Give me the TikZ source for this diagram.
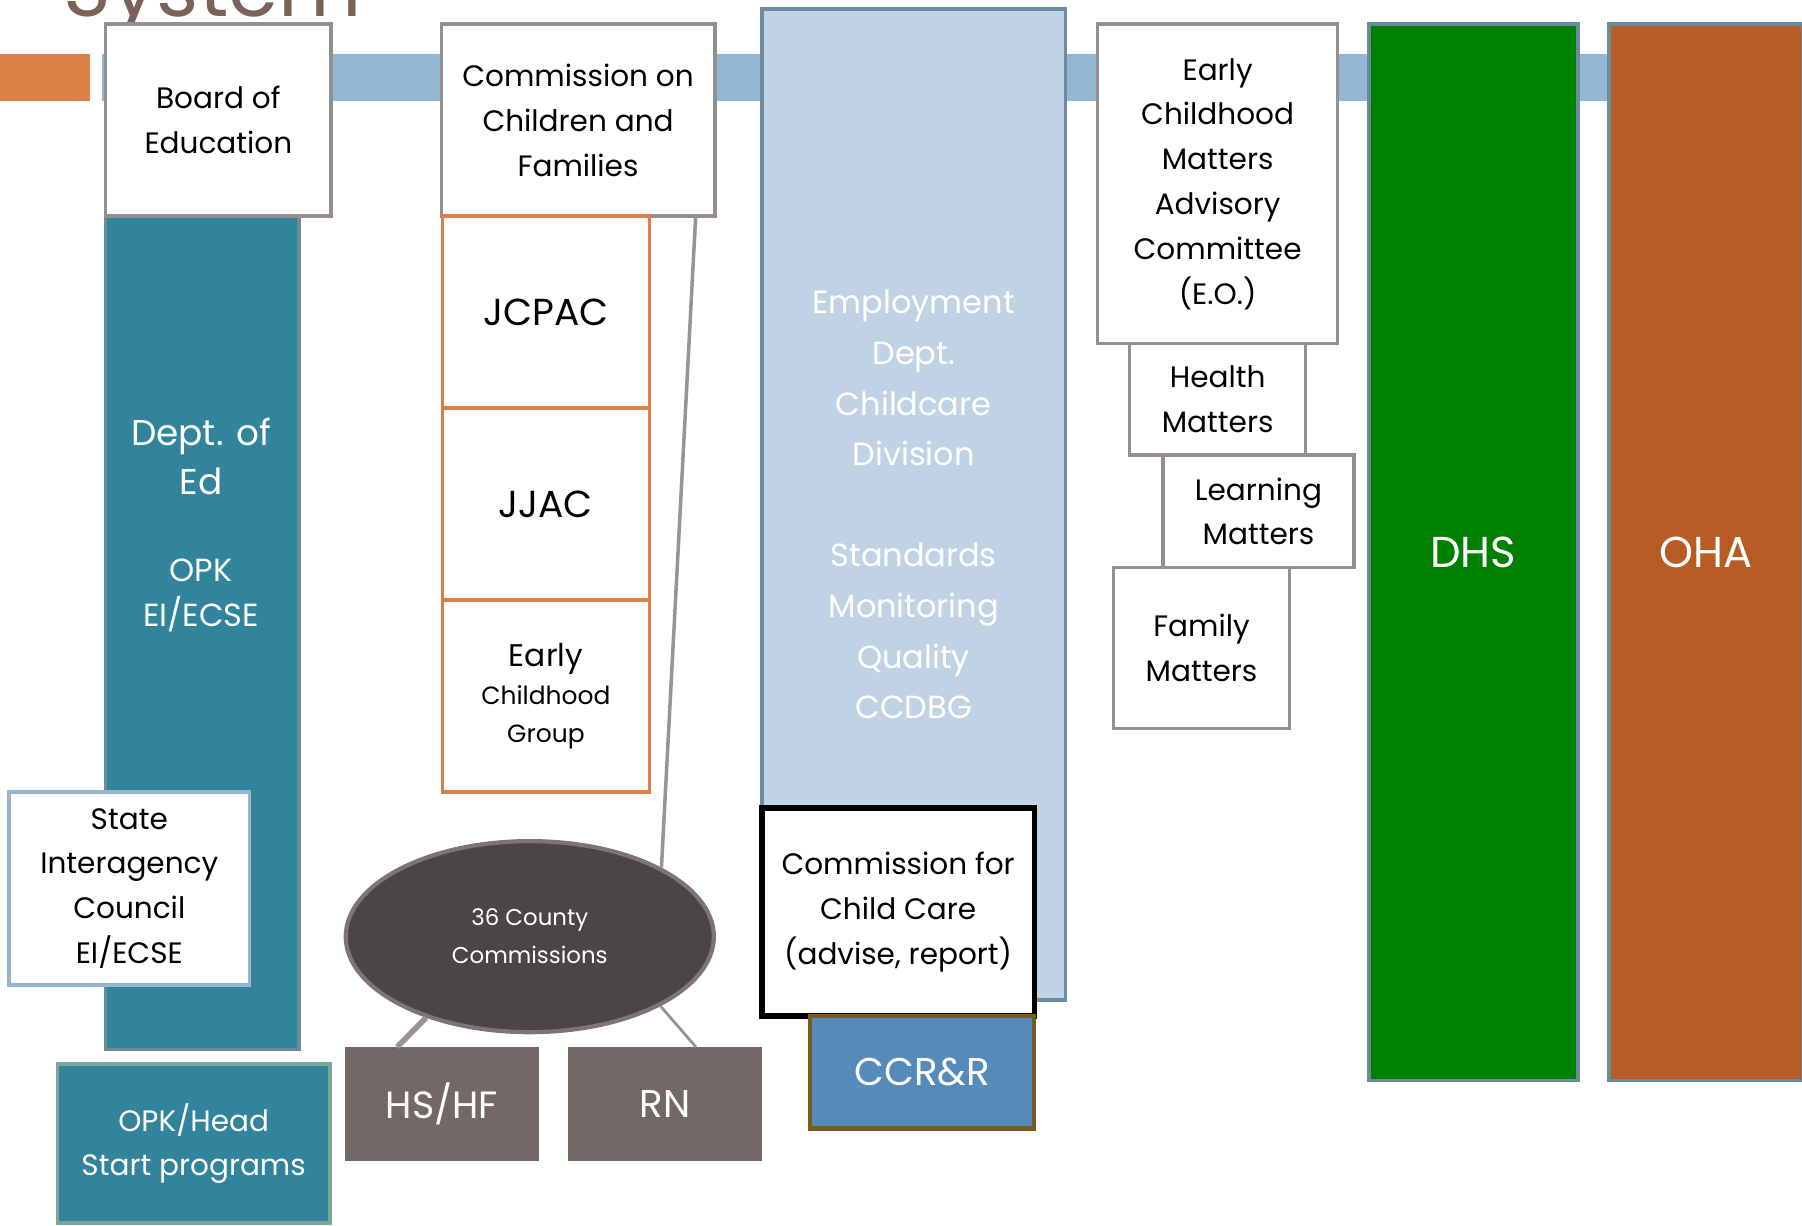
\documentclass[tikz,border=0pt]{standalone}
\usepackage{fontspec}
\setmainfont{Poppins}
\usetikzlibrary{positioning}
\usetikzlibrary{fit}
\usetikzlibrary{calc}
\usetikzlibrary{shapes.geometric}

\definecolor{titlebrown}{HTML}{7B6259}
\definecolor{accent}{HTML}{DD8047}
\definecolor{barblue}{HTML}{94B6D2}
\definecolor{boxgray}{HTML}{978F8F}
\definecolor{teal}{HTML}{31849B}
\definecolor{tealedge}{HTML}{6A8AA0}
\definecolor{ovalfill}{HTML}{4C4546}
\definecolor{ovaledge}{HTML}{7D7475}
\definecolor{taupe}{HTML}{736866}
\definecolor{panelfill}{HTML}{BFD3E5}
\definecolor{paneledge}{HTML}{6E8BA3}
\definecolor{ccrrfill}{HTML}{558BBB}
\definecolor{ccrredge}{HTML}{7A5A1E}
\definecolor{dhsgreen}{HTML}{008000}
\definecolor{ohafill}{HTML}{B85C26}
\definecolor{opkedge}{HTML}{78A89C}
\definecolor{linkgray}{HTML}{9A9393}

\begin{document}
\begin{tikzpicture}[x=0.01149cm, y=-0.01149cm,
  cell/.style = {inner sep=0pt, outer sep=0pt},
  txt/.style = {align=center, inner sep=0pt, font=\fontsize{8.4}{12.75}\selectfont},
  wtxt/.style = {txt, text=white},
  whitebox/.style = {cell, draw=boxgray, line width=1pt, fill=white},
  orangebox/.style = {cell, draw=accent, line width=1pt, fill=white},
  column/.style = {cell, draw=tealedge, line width=1pt},
  darkbox/.style = {cell, fill=taupe},
  link/.style = {draw=linkgray, line width=1pt}
]

\useasboundingbox (0,0) rectangle (1568,1066);

% slide title, cut by the top edge
\node[anchor=base west, inner sep=0pt, text=titlebrown, font=\fontsize{23}{23}\selectfont] (title) at (55,14) {System};

% band behind the boxes
\fill[accent] (0,47) rectangle (78,88);
\fill[barblue] (89,47) rectangle (1568,88);

% education
\node[column, fill=teal, fit={(92,188) (260,913)}] (doe) {};
\node[wtxt, font=\fontsize{10.2}{14}\selectfont] (doeA) at (175,397) {Dept. of\\Ed};
\node[wtxt, font=\fontsize{9.1}{13}\selectfont] (doeB) at (175,518) {OPK\\EI/ECSE};
\node[whitebox, fit={(92,21) (288,188)},
      label={[txt]center:{Board of\\Education}}] (board) {};
\node[whitebox, draw=barblue, fit={(8,689) (217,857)},
      label={[txt]center:{State\\Interagency\\Council\\EI/ECSE}}] (sicc) {};
\node[column, fill=teal, draw=opkedge, fit={(50,926) (287,1064)},
      label={[wtxt]center:{OPK/Head\\Start programs}}] (opk) {};

% commission on children and families
\node[whitebox, fit={(384,21) (622,188)},
      label={[txt]center:{Commission on\\Children and\\Families}}] (ccf) {};
\node[orangebox, fit={(385,188) (565,355)},
      label={[txt, font=\fontsize{10.7}{14}\selectfont]center:JCPAC}] (jcpac) {};
\node[orangebox, fit={(385,355) (565,522)},
      label={[txt, font=\fontsize{10.7}{14}\selectfont]center:JJAC}] (jjac) {};
\node[orangebox, fit={(385,522) (565,689)},
      label={[txt, font=\fontsize{7.1}{10.8}\selectfont]center:{{\fontsize{8.9}{11}\selectfont Early}\\Childhood\\Group}}] (ecg) {};

\node[ellipse, draw=ovaledge, line width=1.2pt, fill=ovalfill, text=white, align=center,
      minimum width=3.68cm, minimum height=1.91cm, inner sep=0pt,
      font=\fontsize{6.5}{10.8}\selectfont] (county) at (461,815) {36 County\\Commissions};
\node[darkbox, fit={(300,911) (469,1010)},
      label={[wtxt, font=\fontsize{10.8}{14}\selectfont]center:HS/HF}] (hshf) {};
\node[darkbox, fit={(494,911) (663,1010)},
      label={[wtxt, font=\fontsize{11}{14}\selectfont]center:RN}] (rn) {};

\draw[link] ($(ccf.south west)!0.93!(ccf.south east)$) -- (county.north east);
\draw[link, line width=1.6pt] (county.218) -- ($(hshf.north west)!0.27!(hshf.north east)$);
\draw[link, line width=0.8pt] (county.332) -- ($(rn.north west)!0.66!(rn.north east)$);

% employment department
\node[column, fill=panelfill, draw=paneledge, fit={(663,8) (927,870)},
      label={[wtxt, font=\fontsize{9.1}{14.4}\selectfont]center:{Employment\\Dept.\\Childcare\\Division\\[14.4pt]Standards\\Monitoring\\Quality\\CCDBG}}] (ed) {};
\node[cell, draw=black, line width=1.5pt, fill=white, fit={(663,703) (900,884)},
      label={[txt]center:{Commission for\\Child Care\\(advise, report)}}] (ccc) {};
\node[cell, draw=ccrredge, line width=1.2pt, fill=ccrrfill, fit={(705,884) (900,982)},
      label={[wtxt, font=\fontsize{11}{14}\selectfont]center:CCR\&R}] (ccrr) {};

% early childhood matters
\node[whitebox, fit={(955,21) (1164,299)},
      label={[txt]center:{Early\\Childhood\\Matters\\Advisory\\Committee\\(E.O.)}}] (ecm) {};
\node[whitebox, fit={(983,299) (1136,396)},
      label={[txt]center:{Health\\Matters}}] (health) {};
\node[whitebox, fit={(1012,396) (1178,494)},
      label={[txt]center:{Learning\\Matters}}] (learn) {};
\node[whitebox, fit={(969,494) (1122,634)},
      label={[txt]center:{Family\\Matters}}] (family) {};

% human services and health authority
\node[column, fill=dhsgreen, fit={(1191,21) (1373,940)},
      label={[wtxt, font=\fontsize{12.3}{14}\selectfont]center:DHS}] (dhs) {};
\node[column, fill=ohafill, fit={(1400,21) (1569,940)},
      label={[wtxt, font=\fontsize{12.3}{14}\selectfont]center:OHA}] (oha) {};

\end{tikzpicture}
\end{document}
